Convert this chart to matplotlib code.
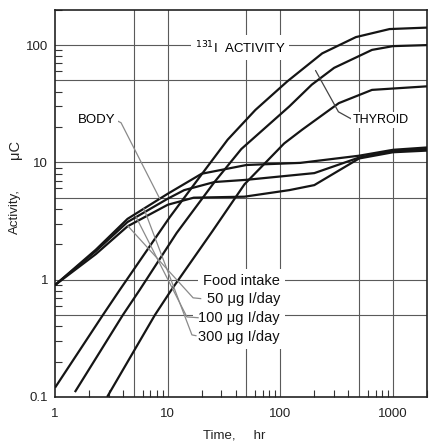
import numpy as np
import matplotlib
matplotlib.use('Agg')
import matplotlib.pyplot as plt
from matplotlib.ticker import LogLocator, NullFormatter

plt.rcParams['font.family'] = ['Liberation Sans', 'DejaVu Sans']

# thyroid activity curves (time in hr, activity in uC)
thy_a_t = [1, 2.66, 3.76, 10.4, 20, 34, 60, 115, 235, 468, 930, 2000]
thy_a_y = [0.12, 0.5, 0.82, 3.4, 7.9, 15.6, 28, 49, 85, 117, 137, 141]
thy_b_t = [1.5, 4.0, 5.65, 12, 26, 45, 120, 190, 300, 650, 1000, 2000]
thy_b_y = [0.11, 0.5, 0.82, 2.5, 6.8, 13, 30, 46, 64, 91, 98, 100]
thy_c_t = [2.9, 7.7, 10.8, 25, 48, 108, 156, 330, 650, 2000]
thy_c_y = [0.1, 0.5, 0.82, 2.6, 6.5, 14.5, 19, 32, 41.5, 44.5]

# body activity curves
body_a_t = [1, 2.3, 4.4, 10, 20, 50, 150, 500, 1000, 2000]
body_a_y = [0.9, 1.8, 3.3, 5.4, 8.0, 9.5, 9.9, 11.4, 12.8, 13.4]
body_b_t = [1, 2.3, 4.4, 10, 14, 26, 50, 200, 500, 1000, 2000]
body_b_y = [0.9, 1.75, 3.1, 4.9, 5.8, 6.8, 7.1, 8.1, 11.0, 12.5, 13.0]
body_c_t = [1, 2.3, 4.4, 10, 17, 48, 120, 200, 500, 1000, 2000]
body_c_y = [0.9, 1.65, 2.85, 4.35, 5.0, 5.1, 5.8, 6.4, 10.8, 12.2, 12.6]

intake_labels = ['Food intake', '50 \u03bcg I/day', '100 \u03bcg I/day', '300 \u03bcg I/day']

x_ticks = [1, 10, 100, 1000]
x_ticklabels = ['1', '10', '100', '1000']
y_ticks = [0.1, 1, 10, 100]
y_ticklabels = ['0.1', '1', '10', '100']


def on_curve(t, ts, ys):
    return 10 ** np.interp(np.log10(t), np.log10(ts), np.log10(ys))


fig = plt.figure(figsize=(4.3, 4.45), dpi=100)
ax = fig.add_axes([0.128, 0.108, 0.865, 0.870])
ax.set_xscale('log')
ax.set_yscale('log')
ax.set_xlim(1, 2000)
ax.set_ylim(0.1, 200)

# grid lines at 5 and 10 multiples
gc = '#5a5a5a'
for v in [5, 10, 50, 100, 500, 1000]:
    ax.axvline(v, color=gc, lw=0.8, zorder=1)
for v in [0.5, 1, 5, 10, 50, 100]:
    ax.axhline(v, color=gc, lw=0.8, zorder=1)

for ts, ys in [(thy_a_t, thy_a_y), (thy_b_t, thy_b_y), (thy_c_t, thy_c_y),
               (body_a_t, body_a_y), (body_b_t, body_b_y), (body_c_t, body_c_y)]:
    ax.plot(ts, ys, color='#151515', lw=1.6, zorder=3, solid_capstyle='butt')

ax.set_xticks(x_ticks)
ax.set_xticklabels(x_ticklabels)
ax.set_yticks(y_ticks)
ax.set_yticklabels(y_ticklabels)
ax.xaxis.set_minor_locator(LogLocator(base=10, subs=(2, 3, 4, 6, 7, 8, 9)))
ax.yaxis.set_minor_locator(LogLocator(base=10, subs=(2, 3, 4, 6, 7, 8, 9)))
ax.xaxis.set_minor_formatter(NullFormatter())
ax.yaxis.set_minor_formatter(NullFormatter())
ax.tick_params(which='major', length=0, labelsize=9.5, colors='#222222')
ax.tick_params(axis='x', which='major', pad=8)
ax.tick_params(axis='y', which='major', pad=5)
ax.tick_params(which='minor', direction='in', length=5, width=0.8, color='#333333')
for s in ax.spines.values():
    s.set_linewidth(1.2)
    s.set_color('#222222')

box = dict(boxstyle='square,pad=0.15', fc='white', ec='none')
lead = '#8a8a8a'
fs = 9.5

ax.text(44, 95, r'$^{131}$I  ACTIVITY', ha='center', va='center', fontsize=fs,
        bbox=dict(boxstyle='square,pad=0.3', fc='white', ec='none'), zorder=4)

ax.annotate('BODY', xy=(8.5, on_curve(8.5, body_a_t, body_a_y)), xytext=(1.6, 23),
            ha='left', va='center', fontsize=fs, bbox=box, zorder=4,
            arrowprops=dict(arrowstyle='-', color=lead, lw=0.9, relpos=(1, 0.5),
                            shrinkA=0, shrinkB=0,
                            connectionstyle='angle,angleA=-27,angleB=117,rad=0'))

ax.annotate('THYROID', xy=(205, on_curve(205, thy_b_t, thy_b_y) * 1.25), xytext=(442, 23),
            ha='left', va='center', fontsize=9, bbox=box, zorder=4,
            arrowprops=dict(arrowstyle='-', color='#444444', lw=0.9, relpos=(0, 0.5),
                            shrinkA=0, shrinkB=0,
                            connectionstyle='angle,angleA=151,angleB=-61,rad=0'))

# intake list, right aligned, with leaders back to the body curves
fs2 = 10.5
label_y = [0.977, 0.685, 0.472, 0.325]
for lab, yy in zip(intake_labels, label_y):
    ax.text(99, yy, lab, ha='right', va='center', fontsize=fs2, color='#111111',
            bbox=dict(boxstyle='square,pad=0.35', fc='white', ec='none'), zorder=4)

starts = [(4.44, body_c_t, body_c_y), (5.24, body_b_t, body_b_y), (6.15, body_a_t, body_a_y)]
bends = [(16.8, 0.70), (14.8, 0.481), (16.4, 0.338)]
ends = [19.6, 18.6, 17.8]
for (t0, bt, by), (tb, yb), te in zip(starts, bends, ends):
    ax.plot([t0, tb, te], [on_curve(t0, bt, by), yb, yb * 0.985], color=lead, lw=0.9,
            zorder=5)

fig.text(0.035, 0.524, 'Activity,', rotation=90, ha='center', va='center',
         fontsize=fs, color='#222222')
fig.text(0.035, 0.665, '\u03bcC', rotation=90, ha='center', va='center',
         fontsize=fs + 1, color='#222222')
fig.text(0.545, 0.022, 'Time,     hr', ha='center', va='center', fontsize=fs, color='#222222')

fig.savefig('out.png', dpi=100, facecolor='white')
